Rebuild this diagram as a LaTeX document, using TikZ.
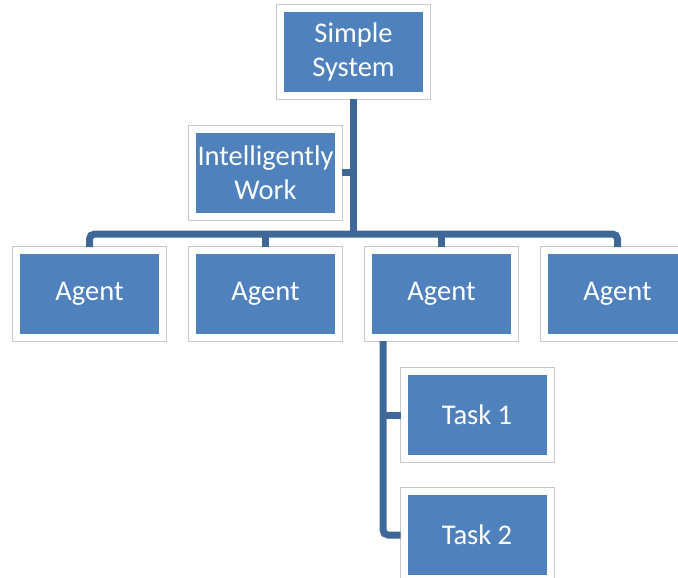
\documentclass[tikz,border=0pt]{standalone}
\usepackage{fontspec}
\setmainfont{Carlito}
\usetikzlibrary{calc}
\definecolor{boxblue}{HTML}{4F81BD}
\definecolor{linkblue}{HTML}{3F6899}
\definecolor{framegray}{HTML}{C8C8C8}
\tikzset{
  unit/.style={fill=boxblue, draw=white, line width=7pt,
    preaction={draw=framegray, line width=9pt},
    minimum width=146pt, minimum height=87pt, inner sep=0pt,
    text=white, align=center, font=\fontsize{28.5}{34}\selectfont},
  link/.style={draw=linkblue, line width=7pt, rounded corners=5pt}
}
\begin{document}
\begin{tikzpicture}[x=1pt, y=-1pt]
  \useasboundingbox (0,0) rectangle (678,578);
  \clip (0,0) rectangle (678,578);

  % hierarchy boxes
  \node[unit] (sys) at (353.5,52)  {Simple\\System};
  \node[unit] (iw)  at (265.5,172.5) {Intelligently\\Work};
  \node[unit] (a1)  at (89.5,294)  {Agent};
  \node[unit] (a2)  at (265.5,294) {Agent};
  \node[unit] (a3)  at (441.5,294) {Agent};
  \node[unit] (a4)  at (617.5,294) {Agent};
  \node[unit] (t1)  at (477,415)   {Task 1};
  \node[unit] (t2)  at (477,535)   {Task 2};

  % junction points of the connector tree
  \coordinate (bus) at (353.5,234);
  \coordinate (rail) at ($(a3.south west)+(18,0)$);

  % connectors
  \draw[link] (sys.south) -- (bus);
  \draw[link] (iw.east) -- (iw.east -| bus);
  \draw[link] (a1.north) |- (bus) -| (a4.north);
  \draw[link] (a2.north) -- (a2.north |- bus);
  \draw[link] (a3.north) -- (a3.north |- bus);
  \draw[link] (rail) |- (t2.west);
  \draw[link] (rail |- t1.west) -- (t1.west);
\end{tikzpicture}
\end{document}
